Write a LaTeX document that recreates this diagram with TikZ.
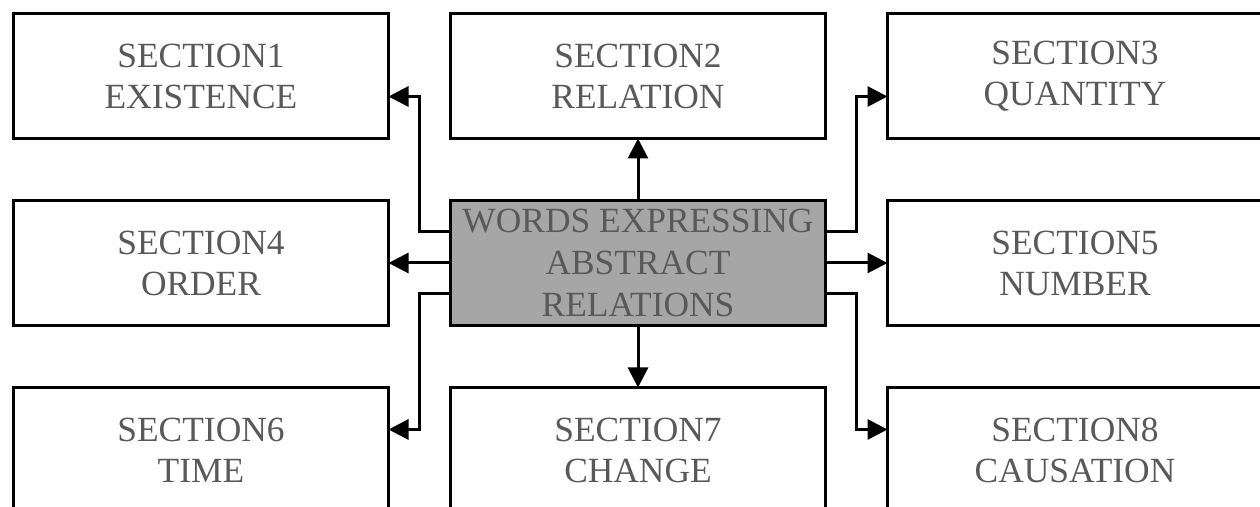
\documentclass[tikz,border=0pt]{standalone}
\usepackage{fontspec}
\setmainfont{Liberation Serif}
\usepackage{tikz}
\usetikzlibrary{positioning, arrows.meta}
\definecolor{txtgray}{HTML}{595959}
\definecolor{boxgray}{HTML}{A6A6A6}
\tikzstyle{section} = [rectangle, minimum width=187.5pt, minimum height=62.5pt, inner sep=0pt, outer sep=0pt, text centered, align=center, draw=black, line width=1.5pt, fill=white, text=txtgray, font=\fontsize{17.7}{20.5}\selectfont]
\tikzstyle{mainbox} = [section, fill=boxgray, font=\fontsize{17.7}{21}\selectfont]
\tikzstyle{arrow} = [line width=1.5pt, -{Triangle[length=10pt, width=10pt]}]

\begin{document}
\begin{tikzpicture}[x=0.5pt, y=-0.5pt, node distance=31pt and 31pt]
\useasboundingbox (0,0) rectangle (1260,507);
\node (words) [mainbox] at (638,263) {WORDS EXPRESSING\\ABSTRACT\\RELATIONS};
\node (sec2) [section, above=of words] {SECTION2\\RELATION};
\node (sec1) [section, left=of sec2] {SECTION1\\EXISTENCE};
\node (sec3) [section, right=of sec2] {SECTION3\\QUANTITY};
\node (sec4) [section, left=of words] {SECTION4\\ORDER};
\node (sec5) [section, right=of words] {SECTION5\\NUMBER};
\node (sec7) [section, below=of words] {SECTION7\\CHANGE};
\node (sec6) [section, left=of sec7] {SECTION6\\TIME};
\node (sec8) [section, right=of sec7] {SECTION8\\CAUSATION};
\draw [arrow] (words) -- (sec2);
\draw [arrow] (words) -- (sec7);
\draw [arrow] (words) -- (sec4);
\draw [arrow] (words) -- (sec5);
\draw [arrow] ([yshift=15.5pt]words.west) -- ++(-15.5pt,0) |- ([yshift=-10.25pt]sec1.east);
\draw [arrow] ([yshift=-15.5pt]words.west) -- ++(-15.5pt,0) |- ([yshift=10.25pt]sec6.east);
\draw [arrow] ([yshift=15.5pt]words.east) -- ++(15.5pt,0) |- ([yshift=-10.25pt]sec3.west);
\draw [arrow] ([yshift=-15.5pt]words.east) -- ++(15.5pt,0) |- ([yshift=10.25pt]sec8.west);
\end{tikzpicture}
\end{document}
